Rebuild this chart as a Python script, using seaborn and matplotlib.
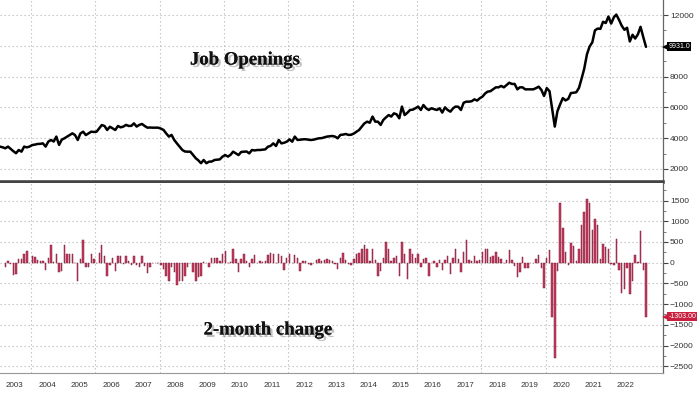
import numpy as np
import pandas as pd
import matplotlib
matplotlib.use('Agg')
import matplotlib.pyplot as plt
import matplotlib.dates as mdates
import matplotlib.patheffects as pe
import matplotlib.transforms as mtransforms
from matplotlib.ticker import FixedLocator, FixedFormatter, NullFormatter, MultipleLocator
import seaborn as sns

# Job openings (thousands), monthly Jan 2003 - Feb 2023
jo_2003 = [3450, 3400, 3340, 3450, 3300, 3150, 3020, 3230, 3120, 3450, 3400, 3450]
jo_2004 = [3550, 3580, 3620, 3630, 3660, 3450, 3770, 3880, 3780, 4100, 3560, 3900]
jo_2005 = [3990, 4100, 4200, 4310, 4200, 3880, 4300, 4420, 4200, 4310, 4420, 4400]
jo_2006 = [4420, 4640, 4850, 4790, 4530, 4740, 4640, 4530, 4790, 4700, 4750, 4860]
jo_2007 = [4790, 4800, 4960, 4750, 4860, 4920, 4790, 4680, 4690, 4680, 4680, 4680]
jo_2008 = [4620, 4530, 4310, 4100, 4210, 3880, 3660, 3450, 3230, 3130, 3120, 3120]
jo_2009 = [2900, 2690, 2560, 2370, 2580, 2370, 2470, 2480, 2580, 2600, 2620, 2800]
jo_2010 = [2900, 2800, 2910, 3120, 3010, 2900, 3100, 3120, 3130, 3010, 3230, 3200]
jo_2011 = [3230, 3230, 3250, 3270, 3440, 3500, 3660, 3490, 3880, 3660, 3700, 3770]
jo_2012 = [3920, 3770, 4100, 3880, 3900, 3920, 3930, 3900, 3880, 3900, 3950, 3990]
jo_2013 = [4000, 4050, 4100, 4120, 4140, 4100, 3990, 4210, 4230, 4270, 4210, 4220]
jo_2014 = [4300, 4420, 4530, 4750, 4960, 5070, 5000, 5400, 5070, 5070, 4860, 5180]
jo_2015 = [5350, 5500, 5400, 5610, 5550, 5290, 6050, 5500, 5650, 5830, 5850, 5940]
jo_2016 = [6050, 5830, 6150, 5940, 5830, 5940, 5880, 5830, 5940, 5660, 6000, 5830]
jo_2017 = [5720, 5940, 6050, 6040, 5830, 6300, 6370, 6370, 6400, 6520, 6440, 6590]
jo_2018 = [6700, 6910, 7020, 7050, 7170, 7300, 7300, 7390, 7300, 7450, 7600, 7520]
jo_2019 = [7520, 7170, 7300, 7300, 7170, 7170, 7170, 7170, 7250, 7345, 7130, 6740]
jo_2020 = [7250, 7050, 5950, 4750, 5750, 6200, 6600, 6450, 6550, 6930, 6950, 6980]
jo_2021 = [7270, 7900, 8500, 9440, 9950, 10220, 11000, 11120, 11100, 11560, 11480, 11900]
jo_2022 = [11443, 11855, 12027, 11681, 11303, 11040, 11170, 10280, 10717, 10471, 10746, 11234]
jo_2023 = [10563, 9931]

openings = (jo_2003 + jo_2004 + jo_2005 + jo_2006 + jo_2007 + jo_2008 + jo_2009 +
            jo_2010 + jo_2011 + jo_2012 + jo_2013 + jo_2014 + jo_2015 + jo_2016 +
            jo_2017 + jo_2018 + jo_2019 + jo_2020 + jo_2021 + jo_2022 + jo_2023)

year_labels = [str(y) for y in range(2003, 2023)]
top_ticks = [2000, 4000, 6000, 8000, 10000, 12000]
top_tick_labels = ['2000', '4000', '6000', '8000', '', '12000']  # 10000 hidden under value box
bottom_ticks = [-2500, -2000, -1500, -1000, -500, 0, 500, 1000, 1500]
title_top = 'Job Openings'
title_bottom = '2-month change'
last_level_label = '9931.0'
last_change_label = '-1303.00'

dates = pd.date_range('2003-01-01', periods=len(openings), freq='MS') + pd.Timedelta(days=14)
df = pd.DataFrame({'date': mdates.date2num(dates), 'openings': openings})
df['change'] = df['openings'].diff(2)

sns.set_style('white')
plt.rcParams['font.family'] = ['Liberation Sans', 'DejaVu Sans']

W, H = 700, 394
fig = plt.figure(figsize=(7, 3.94), dpi=100)
right_px = 663
ax1 = fig.add_axes([0, 1 - 182 / H, right_px / W, 182 / H])
ax2 = fig.add_axes([0, 1 - 373 / H, right_px / W, 190 / H])

grid_kw = dict(color='#bdbdbd', lw=0.8, linestyle=(0, (1.2, 2.4)), zorder=0)

# line
sns.lineplot(data=df, x='date', y='openings', ax=ax1, color='black', lw=1.8, zorder=3)

# bars
bars = df.dropna()
sns.barplot(data=bars, x='date', y='change', ax=ax2, native_scale=True,
            color='#c93a5c', saturation=1, width=0.58, errorbar=None,
            edgecolor='#7d1f3d', linewidth=0.35, zorder=3)

xmin = mdates.date2num(pd.Timestamp('2003-01-14'))
xmax = mdates.date2num(pd.Timestamp('2023-08-27'))
for ax in (ax1, ax2):
    ax.set_xlim(xmin, xmax)
    ax.set_xlabel('')
    ax.set_ylabel('')
    ax.yaxis.tick_right()
    for s in ('left', 'top'):
        ax.spines[s].set_visible(False)
    ax.spines['right'].set_color('#666666')
    ax.spines['right'].set_linewidth(0.9)
    for yr in range(2004, 2024, 2):
        ax.axvline(mdates.date2num(pd.Timestamp(f'{yr}-01-01')), **grid_kw)
    ax.tick_params(axis='y', which='major', direction='out', length=3.5, width=0.8,
                   color='#444444', labelsize=6, labelcolor='#333333', pad=1.5)
    ax.tick_params(axis='y', which='minor', direction='out', length=2, width=0.6,
                   color='#666666')

ax1.set_ylim(1150, 12975)
ax1.set_yticks(top_ticks)
ax1.set_yticklabels(top_tick_labels)
ax1.yaxis.set_minor_locator(MultipleLocator(1000))
for v in top_ticks:
    ax1.axhline(v, **grid_kw)
ax1.set_xticks([])
ax1.spines['bottom'].set_color('#444444')
ax1.spines['bottom'].set_linewidth(2.6)

ax2.set_ylim(-2664, 1925)
ax2.set_yticks(bottom_ticks)
ax2.yaxis.set_minor_locator(MultipleLocator(250))
for v in bottom_ticks:
    ax2.axhline(v, **grid_kw)
ax2.spines['bottom'].set_color('#999999')
ax2.spines['bottom'].set_linewidth(0.8)

year_starts = [mdates.date2num(pd.Timestamp(f'{y}-01-01')) for y in range(2004, 2024)]
mid_years = [mdates.date2num(pd.Timestamp(f'{y}-07-01')) for y in range(2003, 2023)]
ax2.xaxis.set_major_locator(FixedLocator(year_starts))
ax2.xaxis.set_major_formatter(NullFormatter())
ax2.xaxis.set_minor_locator(FixedLocator(mid_years))
ax2.xaxis.set_minor_formatter(FixedFormatter(year_labels))
ax2.tick_params(axis='x', which='major', direction='out', length=15, width=0.8, color='#aaaaaa')
ax2.tick_params(axis='x', which='minor', length=0, labelsize=5.8, labelcolor='#333333', pad=6.5)

shadow = [pe.withSimplePatchShadow(offset=(1.8, -1.8), shadow_rgbFace='#777777', alpha=0.45), pe.Normal()]
ax1.text(245 / right_px, 1 - 60 / 182, title_top, transform=ax1.transAxes, ha='center', va='center',
         fontsize=13.5, family=['Liberation Serif', 'DejaVu Serif'], fontweight='bold', color='#111111',
         path_effects=shadow, zorder=5)
ax2.text(268 / right_px, (373 - 330) / 190, title_bottom, transform=ax2.transAxes, ha='center', va='center',
         fontsize=13.5, family=['Liberation Serif', 'DejaVu Serif'], fontweight='bold', color='#111111',
         path_effects=shadow, zorder=5)


def value_box(ax, y, label, fc):
    t = mtransforms.blended_transform_factory(ax.transAxes, ax.transData)
    ax.text(1.008, y, label, transform=t, ha='left', va='center', fontsize=5.0,
            color='white', clip_on=False, zorder=11,
            bbox=dict(boxstyle='square,pad=0.14', fc=fc, ec='none'))
    ax.plot([1.0035], [y], transform=t, marker='<', markersize=5.0, color=fc,
            markeredgewidth=0, clip_on=False, zorder=10)


value_box(ax1, openings[-1], last_level_label, 'black')
value_box(ax2, bars['change'].iloc[-1], last_change_label, '#c8203e')

fig.savefig('out.png', dpi=100, facecolor='white')
